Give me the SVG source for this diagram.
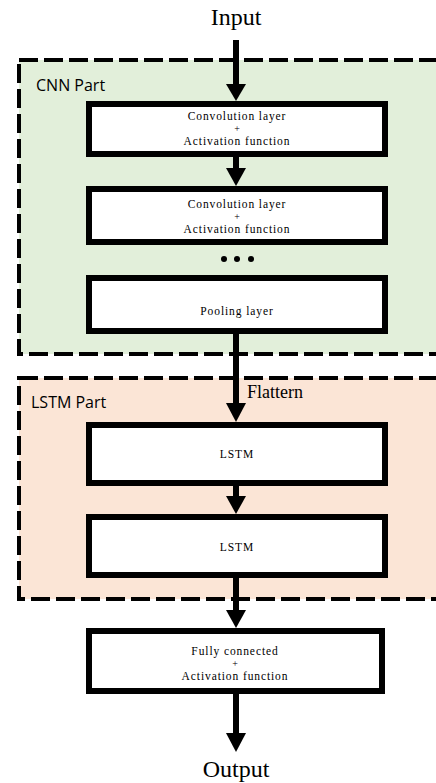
<svg xmlns="http://www.w3.org/2000/svg" width="436" height="783" viewBox="0 0 436 783">
<defs>
<style>
.grp{stroke:#000;stroke-width:4;stroke-dasharray:19 6;}
.node{fill:#fff;stroke:#000;stroke-width:6;}
.nt{font-family:"Liberation Serif","Times New Roman",serif;font-size:11.5px;text-anchor:middle;fill:#000;letter-spacing:0.9px;}
.pl{font-family:"Liberation Serif","Times New Roman",serif;font-size:10px;text-anchor:middle;fill:#000;}
.big{font-family:"Liberation Serif","Times New Roman",serif;font-size:24px;text-anchor:middle;fill:#000;}
.lbl{font-family:"Open Sans","Liberation Sans",sans-serif;font-size:16px;fill:#000;}
.conn{stroke:#000;stroke-width:6;fill:none;}
</style>
</defs>
<rect width="436" height="783" fill="#fff"/>
<g id="cnn-part">
<rect x="19" y="60" width="430" height="294" fill="#e2efda" class="grp"/>
<text class="lbl" x="36" y="91">CNN Part</text>
</g>
<g id="lstm-part">
<rect x="19" y="378" width="430" height="221" fill="#fbe5d6" class="grp"/>
<text class="lbl" x="31" y="408">LSTM Part</text>
</g>
<g id="connectors">
<line class="conn" x1="236" y1="40" x2="236" y2="86"/>
<polygon points="226,84 246,84 236,101"/>
<line class="conn" x1="236" y1="157" x2="236" y2="170"/>
<polygon points="226,168 246,168 236,186"/>
<line class="conn" x1="236" y1="334" x2="236" y2="405"/>
<polygon points="226,403 246,403 236,422"/>
<line class="conn" x1="236" y1="486" x2="236" y2="498"/>
<polygon points="226,496 246,496 236,514"/>
<line class="conn" x1="236" y1="578" x2="236" y2="612"/>
<polygon points="226,610 246,610 236,628"/>
<line class="conn" x1="236" y1="694" x2="236" y2="735"/>
<polygon points="226,733 246,733 236,752"/>
<text x="247" y="398" font-family="'Liberation Serif',serif" font-size="18" fill="#000">Flattern</text>
</g>
<g id="input"><text class="big" x="236" y="25">Input</text></g>
<g id="conv1">
<rect class="node" x="89" y="104" width="296" height="50"/>
<text class="nt" x="237" y="120">Convolution layer</text>
<text class="pl" x="237" y="132">+</text>
<text class="nt" x="237" y="145">Activation  function</text>
</g>
<g id="conv2">
<rect class="node" x="89" y="189" width="296" height="53"/>
<text class="nt" x="237" y="208">Convolution layer</text>
<text class="pl" x="237" y="220">+</text>
<text class="nt" x="237" y="233">Activation  function</text>
</g>
<g id="dots">
<circle cx="224" cy="259" r="3"/>
<circle cx="237" cy="259" r="3"/>
<circle cx="251" cy="259" r="3"/>
</g>
<g id="pool">
<rect class="node" x="89" y="278" width="296" height="53"/>
<text class="nt" x="237" y="315">Pooling layer</text>
</g>
<g id="lstm1">
<rect class="node" x="89" y="425" width="296" height="58"/>
<text class="nt" x="237" y="458">LSTM</text>
</g>
<g id="lstm2">
<rect class="node" x="89" y="517" width="296" height="58"/>
<text class="nt" x="237" y="551">LSTM</text>
</g>
<g id="fc">
<rect class="node" x="89" y="631" width="293" height="60"/>
<text class="nt" x="235" y="655">Fully connected</text>
<text class="pl" x="235" y="667">+</text>
<text class="nt" x="235" y="680">Activation  function</text>
</g>
<g id="output"><text class="big" x="236" y="777">Output</text></g>
</svg>
